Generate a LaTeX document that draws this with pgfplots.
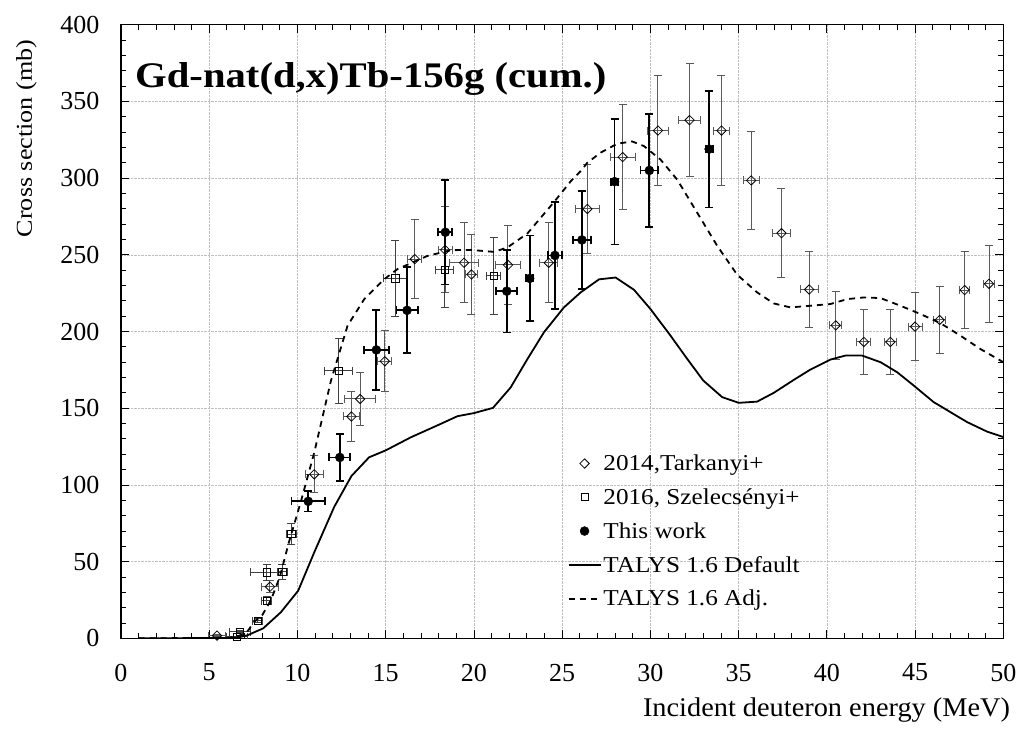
\documentclass[border=0pt]{standalone}
\usepackage{fontspec}
\setmainfont{Liberation Serif}
\newfontfamily\xlabfont{Liberation Serif}[FakeStretch=1.05]
\newfontfamily\ylabfont{Liberation Serif}[FakeStretch=1.15]
\newfontfamily\legfont{Liberation Serif}[FakeStretch=1.11]
\newfontfamily\titlefont{Liberation Serif}[FakeStretch=1.13]
\usepackage{pgfplots}
\pgfplotsset{compat=1.18}
\usepackage{pgfplotstable}

\pgfplotstableread{
E      s      dE    ds
5.44   1.8    0.5   0.5
8.44   33.6   0.5   4
10.95  106.9  0.5   12
13.06  144.6  0.45  16
13.55  156.0  0.9   17
14.95  180.6  0.4   20
16.65  247.2  0.4   26
18.37  253.2  0.4   28
19.44  244.8  0.8   26
19.86  237.2  0.35  26
21.93  243.4  0.7   26
24.24  244.8  0.5   26
26.43  279.9  0.7   29
28.43  313.7  0.7   34
30.43  331.0  0.6   36
32.22  337.8  0.6   37
34.03  331.0  0.45  36
35.71  298.5  0.45  32
37.43  264.1  0.5   29
39.00  227.4  0.5   25
40.50  204.0  0.35  22
42.10  193.2  0.4   21
43.60  193.2  0.35  21
45.00  203.2  0.4   22
46.39  207.5  0.35  22
47.81  227.0  0.3   25
49.19  231.1  0.3   25
}\tarkanyi

\pgfplotstableread{
E      s      dE    ds
6.57   1.0    0.6   0.3
6.76   4.4    0.6   0.5
7.74   11.5   0.3   1.5
8.25   24.5   0.3   2.5
8.25   43.0   0.9   5
9.15   43.4   0.3   5
9.66   67.9   0.3   7
12.34  174.3  0.8   21
15.55  234.6  0.65  25
18.35  240.4  0.5   25
21.12  236.3  0.4   25
}\szelecsenyi

\pgfplotstableread{
E      s      dE    ds
10.61  89.3   0.95  6.6
12.40  117.9  0.6   15.5
14.47  188.0  0.7   26
16.21  213.8  0.6   28
18.38  264.7  0.4   34
21.86  226.3  0.6   27
23.16  234.6  0.2   28
24.59  249.6  0.4   35
26.12  259.7  0.5   32
27.97  297.7  0.2   41
29.94  305.0  0.5   37
33.33  318.9  0.2   38
}\thiswork

\pgfplotstableread{
E      s
1.0    0.0
6.0    0.2
6.6    0.5
7.17   2.0
8.06   6.5
9.06   17.0
10.04  31.0
10.95  56.0
12.08  85.6
13.06  105.8
14.06  118.0
15.0   122.5
16.42  131.0
17.97  139.0
19.07  144.8
20.0   146.8
21.08  150.2
22.08  163.5
23.03  182.0
23.97  199.5
25.1   215.7
26.05  225.5
27.09  234.0
28.03  235.2
29.07  227.2
30.01  214.6
31.14  197.3
32.09  182.1
33.0   168.0
34.07  157.2
35.01  153.5
36.05  154.3
36.99  160.0
38.13  168.5
39.07  175.2
40.2   181.7
41.05  184.3
42.0   184.3
43.04  180.0
43.98  173.5
44.92  164.8
46.05  154.0
47.94  141.0
49.07  134.8
50.0   131.2
}\talysdef

\pgfplotstableread{
E      s
1.0    0.0
6.0    0.3
6.6    1.0
7.2    5.0
7.55   10.8
8.0    15.0
8.5    25.0
9.0    40.0
9.5    62.0
10.19  89.0
10.95  121.0
11.9   168.0
12.84  203.8
13.78  221.0
14.91  234.0
15.67  240.7
17.37  249.3
18.69  253.0
19.82  253.2
21.14  251.9
21.9   254.8
23.03  263.9
24.54  284.4
25.5   298.1
26.05  304.6
26.43  310.0
27.18  316.6
28.12  322.4
28.97  323.9
29.63  320.9
30.58  312.0
31.52  299.0
32.65  277.5
33.79  255.8
34.92  237.0
36.05  225.5
36.99  218.3
37.94  215.7
39.07  216.8
40.2   217.9
41.15  221.1
42.09  222.2
43.04  221.8
44.17  216.8
45.3   211.4
46.43  205.5
47.57  197.3
48.7   188.6
50.0   180.0
}\talysadj

\begin{document}
\begin{tikzpicture}
\path[use as bounding box] (-121pt,-91pt) rectangle (904pt,638.3pt);
\begin{axis}[
  at={(0,0)}, anchor=south west,
  scale only axis,
  width=882.3pt, height=613.6pt,
  xmin=0, xmax=50, ymin=0, ymax=400,
  xtick distance=5, ytick distance=50,
  minor x tick num=4, minor y tick num=4,
  tick align=inside,
  major tick length=8pt, minor tick length=5pt,
  every tick/.style={black, line width=0.8pt},
  axis line style={line width=1.2pt},
  grid=major,
  major grid style={densely dotted, black!25, line width=0.6pt},
  /pgf/number format/assume math mode=true,
  tick label style={font=\rmfamily\fontsize{26}{30}\selectfont},
  xticklabel style={yshift=-22pt},
  yticklabel style={xshift=-18pt},
  xlabel={Incident deuteron energy (MeV)},
  ylabel={Cross section (mb)},
  label style={inner sep=0pt},
  xlabel style={font=\xlabfont\fontsize{27}{31}\selectfont,
    at={([xshift=7pt,yshift=-78.5pt]rel axis cs:1,0)}, anchor=base east},
  ylabel style={font=\ylabfont\fontsize{22.7}{26}\selectfont,
    at={([xshift=-89pt,yshift=-15pt]rel axis cs:0,1)}, anchor=base east},
  legend style={at={(axis cs:25.3,121)}, anchor=north west, draw=none, fill=none,
    font=\legfont\fontsize{22.7}{26}\selectfont, row sep=12.5pt, inner sep=0pt},
  legend cell align=left,
  legend image code/.code={\draw[mark repeat=2,mark phase=2,#1]
    plot coordinates {(0pt,0pt) (16pt,0pt) (32pt,0pt)};},
]
\addplot[only marks, mark=square, mark size=3.3pt,
  mark options={rotate=45, solid, line width=0.8pt, black},
  error bars/.cd, x dir=both, x explicit, y dir=both, y explicit,
  error bar style={black!65, line width=1pt},
  error mark options={rotate=90, mark size=4pt, black!65, line width=1pt}]
  table[x=E, y=s, x error=dE, y error=ds] {\tarkanyi};
\addlegendentry{2014,Tarkanyi+}

\addplot[only marks, mark=square, mark size=3.6pt,
  mark options={solid, line width=0.8pt, black},
  error bars/.cd, x dir=both, x explicit, y dir=both, y explicit,
  error bar style={black!75, line width=1pt},
  error mark options={rotate=90, mark size=4pt, black!75, line width=1pt}]
  table[x=E, y=s, x error=dE, y error=ds] {\szelecsenyi};
\addlegendentry{2016, Szelecsényi+}

\addplot[only marks, mark=*, mark size=4.5pt,
  mark options={solid, black},
  error bars/.cd, x dir=both, x explicit, y dir=both, y explicit,
  error bar style={black, line width=1.8pt},
  error mark options={rotate=90, mark size=4pt, black, line width=1.8pt}]
  table[x=E, y=s, x error=dE, y error=ds] {\thiswork};
\addlegendentry{This work}

\addplot[black, line width=1.8pt, no marks, sharp plot]
  table[x=E, y=s] {\talysdef};
\addlegendentry{TALYS 1.6 Default}

\addplot[black, line width=1.8pt, no marks, sharp plot, dash pattern=on 6pt off 5pt]
  table[x=E, y=s] {\talysadj};
\addlegendentry{TALYS 1.6 Adj.}

\node[anchor=base west, inner sep=0pt, font=\titlefont\fontsize{36}{41}\selectfont\bfseries]
  at ([xshift=14pt,yshift=-62.6pt]rel axis cs:0,1) {Gd-nat(d,x)Tb-156g (cum.)};
\end{axis}
\end{tikzpicture}
\end{document}
